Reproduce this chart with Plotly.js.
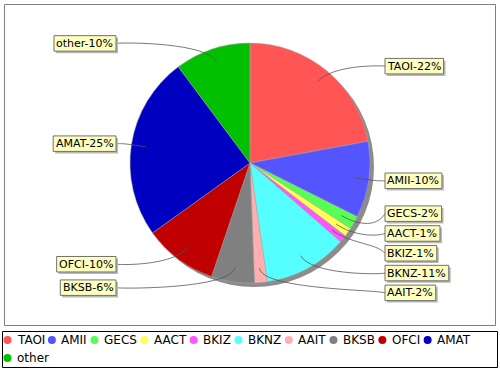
<!DOCTYPE html>
<html><head><meta charset="utf-8">
<script src="https://cdn.plot.ly/plotly-3.0.1.min.js"></script>
<style>html,body{margin:0;padding:0;background:#fff}#chart{width:500px;height:370px}</style>
</head><body><div id="chart"></div>
<script>
// ---- data ----
const labels = ['TAOI','AMII','GECS','AACT','BKIZ','BKNZ','AAIT','BKSB','OFCI','AMAT','other'];
const values = [22.1,10.3,1.8,1.2,1.0,11.3,1.7,5.8,9.9,24.7,10.2];
const colors = ['#FF5555','#5555FF','#55FF55','#FFFF55','#FF55FF','#55FFFF','#FFAFAF','#808080','#C00000','#0000C0','#00C000'];

// ---- layout constants ----
const W=500,H=370, CX=250, CY=163, R=120;
const px = x=>x/W, py = y=>1-y/H;
const FONT='"DejaVu Sans", sans-serif';
const LABEL_FS=11, LEG_FS=12, BOX_H=15.5, BOX_PAD=2.5, GAP=19.8;
const RIGHT_X=385, LEFT_X=116;

const canvas=document.createElement('canvas'); const ctx=canvas.getContext('2d');
function tw(t,size){ctx.font=size+'px "DejaVu Sans"'; return ctx.measureText(t).width;}

const total = values.reduce((a,b)=>a+b,0);
let cum=0;
const slices = values.map((v,i)=>{const a0=cum/total*2*Math.PI; cum+=v; const a1=cum/total*2*Math.PI; return {i, mid:(a0+a1)/2, pct:Math.round(v/total*100)};});

const items = slices.map(s=>{
  const text = labels[s.i]+'-'+s.pct+'%';
  const right = Math.sin(s.mid) >= 0;
  return Object.assign({}, s, {text, right, w: tw(text,LABEL_FS)+2*BOX_PAD, ny: CY - 1.05*R*Math.cos(s.mid)});
});

function resolve(list){
  list.sort((a,b)=>a.ny-b.ny);
  let groups = list.map(it=>({items:[it], c:it.ny}));
  let merged=true;
  while(merged){
    merged=false;
    for(let k=0;k<groups.length-1;k++){
      const g1=groups[k], g2=groups[k+1];
      const b1 = g1.c + (g1.items.length-1)/2*GAP;
      const t2 = g2.c - (g2.items.length-1)/2*GAP;
      if(t2-b1 < GAP){
        const its=g1.items.concat(g2.items);
        const c=its.reduce((a,it)=>a+it.ny,0)/its.length;
        groups.splice(k,2,{items:its,c});
        merged=true; break;
      }
    }
  }
  groups.forEach(g=>g.items.forEach((it,k)=>{it.y = g.c + (k-(g.items.length-1)/2)*GAP;}));
}
resolve(items.filter(it=>it.right));
resolve(items.filter(it=>!it.right));

const shapes=[];
const annotations=[];
// chart border
shapes.push({type:'rect',xref:'paper',yref:'paper',x0:px(4.5),x1:px(495.5),y0:py(4.5),y1:py(325.5),line:{color:'#808080',width:1},layer:'below'});
// pie shadow
shapes.push({type:'circle',xref:'paper',yref:'paper',x0:px(CX-R+4),x1:px(CX+R+4),y0:py(CY+R+4),y1:py(CY-R+4),fillcolor:'#8c8c8c',line:{width:0},layer:'below'});

items.forEach(it=>{
  const dx=Math.sin(it.mid), dy=-Math.cos(it.mid);
  const lx=CX+0.88*R*dx, ly=CY+0.88*R*dy;
  const ex=CX+1.06*R*dx, ey=CY+1.06*R*dy;
  const ax = it.right ? CX+1.06*R : CX-1.06*R;
  const tx = it.right ? RIGHT_X : LEFT_X;
  const p=`M ${px(lx)} ${py(ly)} C ${px(ex)} ${py(ey)} ${px(ax)} ${py(ey)} ${px(tx)} ${py(it.y)}`;
  shapes.push({type:'path',xref:'paper',yref:'paper',path:p,line:{color:'#555555',width:0.8}});
});
items.forEach(it=>{
  const x0 = it.right ? RIGHT_X : LEFT_X-it.w;
  const x1 = x0+it.w;
  const y0 = it.y-BOX_H/2, y1=it.y+BOX_H/2;
  shapes.push({type:'rect',xref:'paper',yref:'paper',x0:px(x0+2),x1:px(x1+2),y0:py(y0+2),y1:py(y1+2),fillcolor:'#b8b8b8',line:{width:0}});
  shapes.push({type:'rect',xref:'paper',yref:'paper',x0:px(x0),x1:px(x1),y0:py(y0),y1:py(y1),fillcolor:'#FFFFC0',line:{color:'#707070',width:1}});
  annotations.push({xref:'paper',yref:'paper',x:px((x0+x1)/2),y:py(it.y),xanchor:'center',yanchor:'middle',showarrow:false,text:it.text,font:{family:FONT,size:LABEL_FS,color:'#000'}});
});

// legend
shapes.push({type:'rect',xref:'paper',yref:'paper',x0:px(2.5),x1:px(497.5),y0:py(331.5),y1:py(367.5),line:{color:'#000',width:1}});
let cur=3, row=0; const rowY=[340,358];
labels.forEach((lab,i)=>{
  const w=tw(lab,LEG_FS);
  if(cur+13+w>495){row++; cur=3;}
  const y=rowY[row];
  shapes.push({type:'circle',xref:'paper',yref:'paper',x0:px(cur+0.5),x1:px(cur+8.5),y0:py(y+4),y1:py(y-4),fillcolor:colors[i],line:{width:0}});
  annotations.push({xref:'paper',yref:'paper',x:px(cur+12),y:py(y),xanchor:'left',yanchor:'middle',showarrow:false,text:lab,font:{family:FONT,size:LEG_FS,color:'#000'}});
  cur += 13+w+4;
});

const trace={type:'pie',labels:labels,values:values,sort:false,direction:'clockwise',rotation:0,
  marker:{colors:colors,line:{color:'#a8a8a8',width:0.5}},textinfo:'none',hoverinfo:'label+percent',
  domain:{x:[px(CX-R),px(CX+R)],y:[py(CY+R),py(CY-R)]},showlegend:false};

Plotly.newPlot('chart',[trace],{width:W,height:H,margin:{l:0,r:0,t:0,b:0},paper_bgcolor:'#fff',showlegend:false,shapes,annotations},{displayModeBar:false,staticPlot:true});
</script></body></html>
